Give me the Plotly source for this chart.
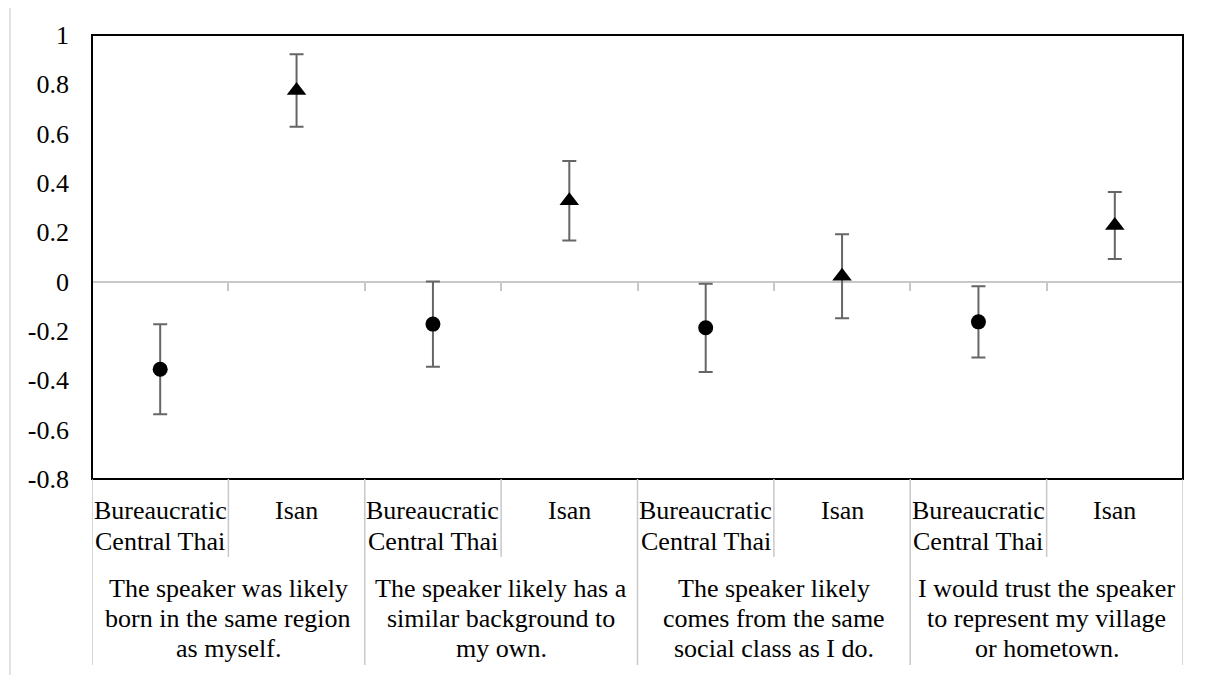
import plotly.graph_objects as go

# ---- data ----
statements = [
    "The speaker was likely<br>born in the same region<br>as myself.",
    "The speaker likely has a<br>similar background to<br>my own.",
    "The speaker likely<br>comes from the same<br>social class as I do.",
    "I would trust the speaker<br>to represent my village<br>or hometown.",
]
varieties = ["Bureaucratic<br>Central Thai", "Isan"]
bct_mean = [-0.355, -0.172, -0.187, -0.163]
bct_err = [0.182, 0.173, 0.179, 0.144]
isan_mean = [0.775, 0.328, 0.022, 0.228]
isan_err = [0.147, 0.161, 0.170, 0.136]
ytick_vals = [1, 0.8, 0.6, 0.4, 0.2, 0, -0.2, -0.4, -0.6, -0.8]
ytick_text = ["1", "0.8", "0.6", "0.4", "0.2", "0", "-0.2", "-0.4", "-0.6", "-0.8"]

# ---- layout constants (page body has an 8px offset) ----
OFF = 8
W, H = 1206, 675
PL, PR, PT, PB = 92, 1183, 35, 479          # desired plot box in screen px
L, T = PL - OFF, PT - OFF
R = W - L - (PR - PL)
B = H - T - (PB - PT)
plot_w = PR - PL
plot_h = PB - PT
FONT = "Times New Roman, Liberation Serif, serif"
FS = 26
GRID = "#c8c8c8"
ERR = "#666666"

n = len(statements)
x_bct = [2 * i for i in range(n)]
x_isan = [2 * i + 1 for i in range(n)]

def py(px):
    return (PB - px) / plot_h

def pxp(px):
    return (px - PL) / plot_w

fig = go.Figure()
fig.add_trace(go.Scatter(
    x=x_bct, y=bct_mean, mode="markers",
    marker=dict(symbol="circle", size=15, color="black"),
    error_y=dict(type="data", array=bct_err, color=ERR, thickness=2, width=7),
    showlegend=False,
))
fig.add_trace(go.Scatter(
    x=x_isan, y=isan_mean, mode="markers",
    marker=dict(symbol="triangle-up", size=17, color="black"),
    error_y=dict(type="data", array=isan_err, color=ERR, thickness=2, width=7),
    showlegend=False,
))

ymin, ymax = -0.8, 1.0
fig.update_layout(
    width=W, height=H,
    margin=dict(l=L, r=R, t=T, b=B),
    paper_bgcolor="white", plot_bgcolor="white",
    font=dict(family=FONT, size=FS, color="black"),
    xaxis=dict(
        range=[-0.5, 2 * n - 0.5], showgrid=False, zeroline=False,
        showticklabels=False, anchor="free",
        position=(0 - ymin) / (ymax - ymin),
        showline=True, linecolor=GRID, linewidth=2,
        ticks="outside", ticklen=8, tickcolor=GRID, tickwidth=1.5,
        tickvals=[k - 0.5 for k in range(2 * n + 1)],
        layer="below traces",
    ),
    yaxis=dict(
        range=[ymin, ymax], showgrid=False, zeroline=False,
        tickvals=ytick_vals, ticktext=ytick_text,
        ticks="", ticklabelstandoff=22, showline=False,
        tickfont=dict(family=FONT, size=FS, color="black"),
    ),
)

shapes = []
# plot area box
shapes.append(dict(type="rect", xref="paper", yref="paper", x0=0, x1=1, y0=0, y1=1,
                   line=dict(color="black", width=2), layer="above"))
# outer chart border (top & left visible)
shapes.append(dict(type="line", xref="paper", yref="paper",
                   x0=pxp(10), x1=1.1, y0=py(6), y1=py(6),
                   line=dict(color="#d9d9d9", width=1.5)))
shapes.append(dict(type="line", xref="paper", yref="paper",
                   x0=pxp(10), x1=pxp(10), y0=py(6), y1=-0.6,
                   line=dict(color="#d9d9d9", width=1.5)))
# category dividers
for k in range(2 * n + 1):
    xv = k - 0.5
    long = (k % 2 == 0)
    shapes.append(dict(type="line", xref="x", yref="paper", x0=xv, x1=xv,
                       y0=0, y1=py(665 if long else 557),
                       line=dict(color=GRID, width=1.5)))

annotations = []
row1_centers = [511, 541]
row2_centers = [588, 618, 648]
for i in range(n):
    for j, xv in enumerate([x_bct[i], x_isan[i]]):
        for li, line in enumerate(varieties[j].split("<br>")):
            annotations.append(dict(x=xv, y=py(row1_centers[li]), xref="x", yref="paper",
                                    text=line, showarrow=False, xanchor="center",
                                    yanchor="middle", font=dict(family=FONT, size=FS)))
    for li, line in enumerate(statements[i].split("<br>")):
        annotations.append(dict(x=2 * i + 0.5, y=py(row2_centers[li]), xref="x", yref="paper",
                                text=line, showarrow=False, xanchor="center",
                                yanchor="middle", font=dict(family=FONT, size=FS)))

fig.update_layout(shapes=shapes, annotations=annotations)
fig.write_html("out.html")
